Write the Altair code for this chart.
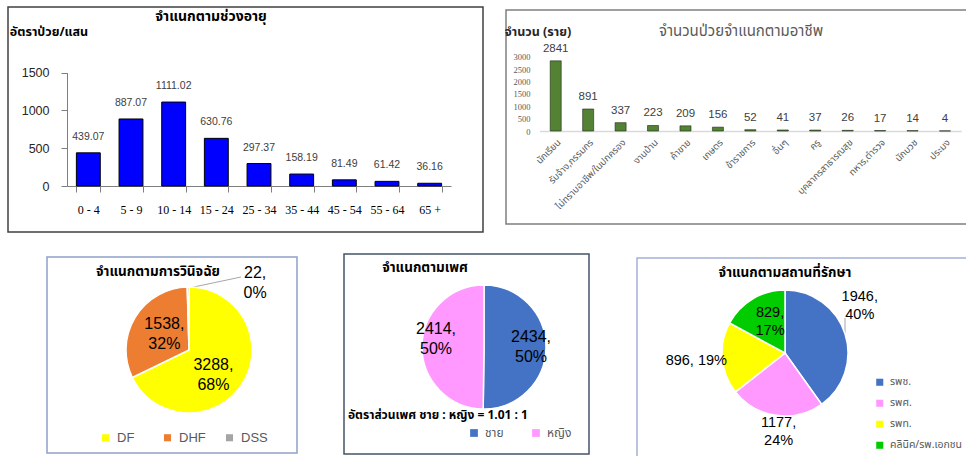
import altair as alt
import pandas as pd

# ---------------- data ----------------
age_groups = ["0 - 4", "5 - 9", "10 - 14", "15 - 24", "25 - 34",
              "35 - 44", "45 - 54", "55 - 64", "65 +"]
age_rates = [439.07, 887.07, 1111.02, 630.76, 297.37, 158.19, 81.49, 61.42, 36.16]

occupations = ["นักเรียน", "รับจ้าง,กรรมกร", "ไม่ทราบอาชีพ/ในปกครอง", "งานบ้าน",
               "ค้าขาย", "เกษตร", "ข้าราชการ", "อื่นๆ", "ครู",
               "บุคลากรสาธารณสุข", "ทหาร,ตำรวจ", "นักบวช", "ประมง"]
occ_cases = [2841, 891, 337, 223, 209, 156, 52, 41, 37, 26, 17, 14, 4]

diag_types = ["DF", "DHF", "DSS"]
diag_cases = [3288, 1538, 22]
diag_pct = [68, 32, 0]

sex_types = ["ชาย", "หญิง"]
sex_cases = [2434, 2414]
sex_pct = [50, 50]

place_types = ["รพช.", "รพศ.", "รพท.", "คลินิค/รพ.เอกชน"]
place_cases = [1946, 1177, 896, 829]
place_pct = [40, 24, 19, 17]

age_title = "จำแนกตามช่วงอายุ"
age_ytitle = "อัตราป่วย/แสน"
occ_title = "จำนวนป่วยจำแนกตามอาชีพ"
occ_ytitle = "จำนวน (ราย)"
diag_title = "จำแนกตามการวินิจฉัย"
sex_title = "จำแนกตามเพศ"
sex_note = "อัตราส่วนเพศ ชาย :  หญิง = 1.01 : 1"
place_title = "จำแนกตามสถานที่รักษา"

diag_colors = ["#FFFF00", "#ED7D31", "#A5A5A5"]
sex_colors = ["#4472C4", "#FF99FF"]
place_colors = ["#4472C4", "#FF99FF", "#FFFF00", "#00CC00"]

# ---------------- styling ----------------
W, H = 966, 456
THAI = "Tahoma, 'Noto Sans Thai', 'Leelawadee UI', sans-serif"
SANS = "'Liberation Sans', Arial, sans-serif"
SERIF = "'Liberation Serif', 'Times New Roman', serif"

one = pd.DataFrame({"k": [0]})


def box(x0, y0, x1, y1, color, width):
    return alt.Chart(one).mark_rect(fillOpacity=0, stroke=color, strokeWidth=width).encode(
        x=alt.value(x0), x2=alt.value(x1), y=alt.value(y0), y2=alt.value(y1))


def label(text, x, y, size, bold=False, color="#000000", font=THAI, align="center"):
    return alt.Chart(pd.DataFrame({"t": [text]})).mark_text(
        font=font, fontSize=size, fontWeight="bold" if bold else "normal",
        color=color, align=align, baseline="middle").encode(
        x=alt.value(x), y=alt.value(y), text="t:N")


def leader(x0, y0, x1, y1):
    return alt.Chart(one).mark_rule(color="#A6A6A6", strokeWidth=1).encode(
        x=alt.value(x0), y=alt.value(y0), x2=alt.value(x1), y2=alt.value(y1))


# ---------------- age-group bar chart ----------------
age_df = pd.DataFrame({"age": age_groups, "rate": age_rates})
age_base = alt.Chart(age_df).encode(
    x=alt.X("age:N", sort=age_groups,
            scale=alt.Scale(range=[67, 451], paddingInner=0.44, paddingOuter=0.22),
            axis=alt.Axis(title=None, orient="bottom", offset=186 - H, labelAngle=0,
                          labelFont=SERIF, labelFontSize=12, labelColor="#000000",
                          labelPadding=12, tickBand="extent", tickSize=6,
                          tickColor="#7F7F7F", domainColor="#7F7F7F", grid=False)),
    y=alt.Y("rate:Q",
            scale=alt.Scale(domain=[0, 1500], range=[186, 72.67], nice=False),
            axis=alt.Axis(title=None, orient="left", offset=-67, format="d",
                          values=[0, 500, 1000, 1500], labelFont=SANS,
                          labelFontSize=12.5, labelColor="#262626", labelPadding=12,
                          tickSize=6, tickColor="#7F7F7F", domainColor="#7F7F7F",
                          grid=False)),
)
age_bars = age_base.mark_bar(color="#0000FF", stroke="#000000", strokeWidth=1)
age_text = age_base.mark_text(dy=-16, font=SANS, fontSize=10.5, color="#404040").encode(
    text=alt.Text("rate:Q", format=".2f"))
age_chart = alt.layer(age_bars, age_text)

# ---------------- occupation bar chart ----------------
occ_df = pd.DataFrame({"occ": occupations, "cases": occ_cases})
occ_base = alt.Chart(occ_df).encode(
    x=alt.X("occ:N", sort=occupations,
            scale=alt.Scale(range=[539.5, 961.2], paddingInner=0.66, paddingOuter=0.33),
            axis=alt.Axis(title=None, orient="bottom", offset=131 - H, labelAngle=-45,
                          labelFont=THAI, labelFontSize=9.5, labelColor="#595959",
                          labelPadding=6, ticks=False, tickSize=0,
                          domainColor="#D9D9D9", domainWidth=1.5, grid=False)),
    y=alt.Y("cases:Q",
            scale=alt.Scale(domain=[0, 3000], range=[131, 56.9], nice=False),
            axis=alt.Axis(title=None, orient="left", offset=-534, format="d",
                          values=[0, 500, 1000, 1500, 2000, 2500, 3000],
                          labelFont=SERIF, labelFontSize=8.5, labelColor="#595959",
                          labelPadding=4, ticks=False, tickSize=0, domain=False,
                          grid=False)),
)
occ_bars = occ_base.mark_bar(color="#548235", stroke="#1F2A17", strokeWidth=1,
                             strokeOpacity=0.6)
occ_text = occ_base.mark_text(dy=-12, font=SANS, fontSize=11.5, color="#404040").encode(
    text=alt.Text("cases:Q", format="d"))
occ_chart = alt.layer(occ_bars, occ_text)


# ---------------- pies ----------------
def pie(field, cats, values, pcts, colors, cx, cy, r, legend, labels, font_size,
        line_h, one_line=()):
    df = pd.DataFrame({field: cats, "n": values, "i": list(range(len(cats)))})
    df["lab"] = [
        f"{v}, {p}%" if c in one_line else f"{v},\n{p}%"
        for c, v, p in zip(cats, values, pcts)
    ]
    base = alt.Chart(df).encode(
        theta=alt.Theta("n:Q", stack=True),
        order=alt.Order("i:Q"),
        x=alt.value(cx), y=alt.value(cy),
    )
    arc = base.mark_arc(radius=r, stroke="white", strokeWidth=1.5).encode(
        color=alt.Color(f"{field}:N", sort=cats,
                        scale=alt.Scale(domain=cats, range=colors), legend=legend))
    layers = [arc]
    for cat, rad, dx, dy in labels:
        # two-line labels hang from their anchor, so lift them by half a line
        lift = 0 if cat in one_line else -line_h / 2
        layers.append(
            base.mark_text(radius=rad, dx=dx, dy=dy + lift, font=SANS,
                           fontSize=font_size, lineHeight=line_h, lineBreak="\n",
                           color="#000000", align="center", baseline="middle").encode(
                text=alt.condition(alt.datum[field] == cat, "lab:N", alt.value(""))))
    return alt.layer(*layers)


diag_pie = pie(
    "diag", diag_types, diag_cases, diag_pct, diag_colors, 189, 350, 63,
    alt.Legend(orient="none", legendX=99, legendY=431, direction="horizontal",
               title=None, symbolType="square", symbolSize=50, symbolStrokeWidth=0,
               labelFont=SANS, labelFontSize=13, labelColor="#595959",
               columnPadding=17, gridAlign="all", padding=0, labelOffset=5),
    [("DF", 30, -1, 9), ("DHF", 30, 1, 0), ("DSS", 63, 67, -4)],
    16, 20)

sex_pie = pie(
    "sex", sex_types, sex_cases, sex_pct, sex_colors, 484, 347, 62,
    alt.Legend(orient="none", legendX=468, legendY=427, direction="horizontal",
               title=None, symbolType="square", symbolSize=60, symbolStrokeWidth=0,
               labelFont=THAI, labelFontSize=12, labelColor="#595959",
               columnPadding=20, gridAlign="all", padding=0, labelOffset=5),
    [("ชาย", 47, 0, 0), ("หญิง", 48, 0, -8)],
    16, 20)

place_pie = pie(
    "place", place_types, place_cases, place_pct, place_colors, 785, 353, 63,
    alt.Legend(orient="none", legendX=874.5, legendY=377, direction="vertical",
               title=None, symbolType="square", symbolSize=50, symbolStrokeWidth=0,
               labelFont=THAI, labelFontSize=10.5, labelColor="#595959",
               rowPadding=10, padding=0, labelOffset=5),
    [("รพช.", 89, -10, -20), ("รพศ.", 80, 5, 0), ("รพท.", 89, 0, 1),
     ("คลินิค/รพ.เอกชน", 37, 4, 1)],
    14.5, 18, one_line=("รพท.",))

layers = [
    # panel frames
    box(8, 7, 483, 232, "#404040", 1.5),
    box(506, 10, 972, 224, "#7F7F7F", 1.5),
    box(47, 257, 297, 453, "#8EA0C8", 1.5),
    box(344, 254, 589, 454, "#44546A", 1.5),
    box(637, 258, 972, 462, "#A3B3D6", 1.5),
    # titles and notes
    label(age_title, 211, 17, 14, bold=True),
    label(age_ytitle, 49, 32, 12.5, bold=True),
    label(occ_title, 741, 31, 15, color="#595959"),
    label(occ_ytitle, 538, 32, 12.5, bold=True, color="#262626"),
    label(diag_title, 158, 272, 13.5, bold=True),
    label(sex_title, 425, 268, 13.5, bold=True),
    label(sex_note, 348, 415, 12, bold=True, align="left"),
    label(place_title, 785, 273, 13.5, bold=True),
    # leader lines for the labels placed outside their slices
    leader(189, 288, 241, 277),
    leader(845, 318, 845, 333),
    age_chart,
    occ_chart,
    diag_pie,
    sex_pie,
    place_pie,
]

chart = (
    alt.layer(*layers)
    .resolve_scale(x="independent", y="independent", theta="independent",
                   color="independent")
    .resolve_axis(x="independent", y="independent")
    .resolve_legend(color="independent")
    .properties(width=W, height=H, padding=0, autosize="none", background="white")
    .configure_view(stroke=None)
)

chart.save("out.html", embed_options={"renderer": "svg", "actions": False})
